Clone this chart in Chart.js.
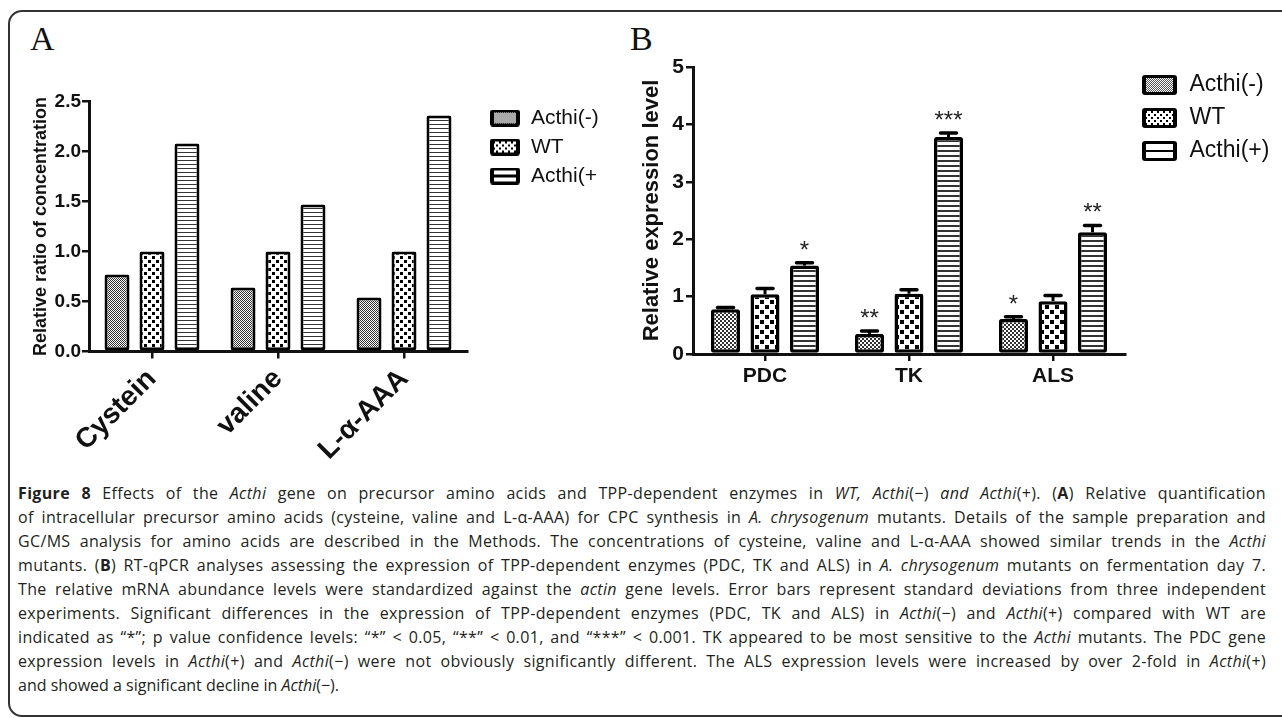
<!DOCTYPE html>
<html>
<head>
<meta charset="utf-8">
<title>Figure 8</title>
<script src="https://cdn.jsdelivr.net/npm/chart.js@4.4.0/dist/chart.umd.min.js"></script>
<style>
  html, body { margin: 0; padding: 0; background: #fff; }
  body { width: 1282px; height: 718px; overflow: hidden; position: relative; }
  #frame { position: absolute; left: 8px; top: 10px; width: 1320px; height: 707px;
           border: 2px solid #333; border-radius: 14px; box-sizing: border-box; }
  canvas { position: absolute; left: 0; top: 0; }
  .tag { position: absolute; font-family: 'Liberation Serif', 'Times New Roman', serif;
         font-size: 34px; line-height: 1; color: #111; }
  #caption { position: absolute; left: 18px; top: 481px; font-family: 'Open Sans', sans-serif;
             font-size: 16px; line-height: 24px; color: #231f20; }
  #caption .ln { display: inline-block; white-space: nowrap; }
</style>
</head>
<body>
<div id="frame"></div>
<div class="tag" style="left:30px; top:22px;">A</div>
<div class="tag" style="left:630px; top:22px;">B</div>
<canvas id="chartA" width="1282" height="460"></canvas>
<canvas id="chartB" width="1282" height="460"></canvas>

<div id="caption">
  <div><span class="ln"><b>Figure 8</b> Effects of the <i>Acthi</i> gene on precursor amino acids and TPP-dependent enzymes in <i>WT, Acthi</i>(−) <i>and Acthi</i>(+). (<b>A</b>) Relative quantification</span></div>
  <div><span class="ln">of intracellular precursor amino acids (cysteine, valine and L-α-AAA) for CPC synthesis in <i>A. chrysogenum</i> mutants. Details of the sample preparation and</span></div>
  <div><span class="ln">GC/MS analysis for amino acids are described in the Methods. The concentrations of cysteine, valine and L-α-AAA showed similar trends in the <i>Acthi</i></span></div>
  <div><span class="ln">mutants. (<b>B</b>) RT-qPCR analyses assessing the expression of TPP-dependent enzymes (PDC, TK and ALS) in <i>A. chrysogenum</i> mutants on fermentation day 7.</span></div>
  <div><span class="ln">The relative mRNA abundance levels were standardized against the <i>actin</i> gene levels. Error bars represent standard deviations from three independent</span></div>
  <div><span class="ln">experiments. Significant differences in the expression of TPP-dependent enzymes (PDC, TK and ALS) in <i>Acthi</i>(−) and <i>Acthi</i>(+) compared with WT are</span></div>
  <div><span class="ln">indicated as “*”; p value confidence levels: “*” &lt; 0.05, “**” &lt; 0.01, and “***” &lt; 0.001. TK appeared to be most sensitive to the <i>Acthi</i> mutants. The PDC gene</span></div>
  <div><span class="ln">expression levels in <i>Acthi</i>(+) and <i>Acthi</i>(−) were not obviously significantly different. The ALS expression levels were increased by over 2-fold in <i>Acthi</i>(+)</span></div>
  <div><span class="ln">and showed a significant decline in <i>Acthi</i>(−).</span></div>
</div>

<script>
// ---- data ----
const seriesNames = ['Acthi(-)', 'WT', 'Acthi(+)'];
const legendNamesA = ['Acthi(-)', 'WT', 'Acthi(+'];   // cut off in the original panel

// panel A: relative ratio of concentration
const aminoAcids = ['Cystein', 'valine', 'L-α-AAA'];
const ratioMinus = [0.77, 0.64, 0.54];
const ratioWT = [1.0, 1.0, 1.0];
const ratioPlus = [2.08, 1.47, 2.36];
const ratioTicks = ['0.0', '0.5', '1.0', '1.5', '2.0', '2.5'];

// panel B: relative expression level
const enzymes = ['PDC', 'TK', 'ALS'];
const exprMinus = [0.78, 0.35, 0.61];
const exprWT = [1.04, 1.05, 0.92];
const exprPlus = [1.54, 3.78, 2.12];
const errMinus = [0.03, 0.05, 0.04];
const errWT = [0.10, 0.07, 0.10];
const errPlus = [0.05, 0.07, 0.12];
const sigMinus = ['', '**', '*'];
const sigWT = ['', '', ''];
const sigPlus = ['*', '***', '**'];
const exprTicks = ['0', '1', '2', '3', '4', '5'];

const FONT = "'Liberation Sans', Arial, sans-serif";
const INK = '#111';

// ---- fill patterns ----
function tile(w, h, draw) {
  const c = document.createElement('canvas');
  c.width = w; c.height = h;
  const g = c.getContext('2d');
  g.fillStyle = '#fff';
  g.fillRect(0, 0, w, h);
  g.fillStyle = '#000';
  draw(g);
  return c;
}
function pattern(ctx, c) { return ctx.createPattern(c, 'repeat'); }

const fineTile = (cell) => tile(cell * 2, cell * 2, g => {
  g.fillStyle = '#333';
  g.fillRect(0, 0, cell, cell); g.fillRect(cell, cell, cell, cell);
});
const checkTile = (cell) => tile(cell * 2, cell * 2, g => {
  g.fillRect(0, 0, cell - 1, cell - 1); g.fillRect(cell, cell, cell - 1, cell - 1);
});
const stripeTile = (period, line) => tile(1, period, g => {
  g.fillStyle = '#333';
  g.fillRect(0, 0, 1, line);
});

function roundRect(g, x, y, w, h, r) {
  g.beginPath();
  g.moveTo(x + r, y);
  g.arcTo(x + w, y, x + w, y + h, r);
  g.arcTo(x + w, y + h, x, y + h, r);
  g.arcTo(x, y + h, x, y, r);
  g.arcTo(x, y, x + w, y, r);
  g.closePath();
}

// legend swatches, drawn like the Prism ones
function icon(w, h, kind) {
  const c = document.createElement('canvas');
  c.width = w; c.height = h;
  const g = c.getContext('2d');
  g.fillStyle = '#000';
  roundRect(g, 0, 0, w, h, 3);
  g.fill();
  const ix = 4, iy = 3, iw = w - 8, ih = h - 6;
  if (kind === 0) {
    g.fillStyle = g.createPattern(tile(2, 2, t => { t.fillStyle = '#555'; t.fillRect(0, 0, 1, 1); t.fillRect(1, 1, 1, 1); }), 'repeat');
    g.fillRect(ix, iy, iw, ih);
  } else if (kind === 1) {
    g.fillStyle = g.createPattern(checkTile(3), 'repeat');
    g.fillRect(ix, iy, iw, ih);
  } else {
    const s = Math.floor((ih - 2) / 2);
    g.fillStyle = '#fff';
    g.fillRect(ix, iy, iw, s);
    g.fillRect(ix, iy + ih - s, iw, s);
  }
  return c;
}

// ---- plugins ----
const placeLegend = {
  id: 'placeLegend',
  afterLayout(chart, args, opts) {
    const lg = chart.legend;
    if (!lg) return;
    lg.left = opts.x; lg.top = opts.y;
    lg.right = opts.x + lg.width; lg.bottom = opts.y + 300;
  }
};

const errorBars = {
  id: 'errorBars',
  afterDatasetsDraw(chart, args, opts) {
    const ctx = chart.ctx;
    const yScale = chart.scales.y;
    chart.data.datasets.forEach((ds, i) => {
      if (!ds.errors) return;
      const meta = chart.getDatasetMeta(i);
      meta.data.forEach((bar, j) => {
        const top = yScale.getPixelForValue(ds.data[j] + ds.errors[j]);
        const cap = bar.width * 0.55;
        ctx.save();
        ctx.strokeStyle = '#000';
        ctx.lineWidth = 3;
        ctx.beginPath();
        ctx.moveTo(bar.x, bar.y);
        ctx.lineTo(bar.x, top);
        ctx.stroke();
        ctx.lineWidth = 3.5;
        ctx.lineCap = 'round';
        ctx.beginPath();
        ctx.moveTo(bar.x - cap / 2, top);
        ctx.lineTo(bar.x + cap / 2, top);
        ctx.stroke();
        if (ds.marks && ds.marks[j]) {
          ctx.fillStyle = '#222';
          ctx.font = '24px ' + FONT;
          ctx.textAlign = 'center';
          ctx.textBaseline = 'alphabetic';
          ctx.fillText(ds.marks[j], bar.x, top - opts.gap);
        }
        ctx.restore();
      });
    });
  }
};

function axisFont(size, bold) {
  return { family: FONT, size: size, weight: bold ? 'bold' : 'normal' };
}

// ---- panel A ----
const ctxA = document.getElementById('chartA').getContext('2d');
const patA = [pattern(ctxA, fineTile(1)), pattern(ctxA, checkTile(4)), pattern(ctxA, stripeTile(4, 1))];
const iconsA = [icon(30, 17, 0), icon(30, 17, 1), icon(30, 17, 2)];
const valuesA = [ratioMinus, ratioWT, ratioPlus];

new Chart(ctxA, {
  type: 'bar',
  data: {
    labels: aminoAcids,
    datasets: seriesNames.map((name, i) => ({
      label: name,
      data: valuesA[i],
      backgroundColor: patA[i],
      borderColor: '#000',
      borderWidth: 3,
      borderRadius: 2,
      borderSkipped: false,
      categoryPercentage: 0.833,
      barPercentage: 0.714
    }))
  },
  options: {
    responsive: false,
    animation: false,
    events: [],
    layout: { padding: { left: 23, right: 815, top: 101.5, bottom: 0 } },
    scales: {
      x: {
        ticks: { font: axisFont(28, true), color: INK, minRotation: 45, maxRotation: 45, autoSkip: false, padding: 4 },
        grid: { offset: false, drawOnChartArea: false, drawTicks: true, tickLength: 7, color: INK, lineWidth: 2.5 },
        border: { color: INK, width: 3 },
        afterFit(scale) { scale.height = 108.5; }
      },
      y: {
        min: 0, max: 2.5,
        ticks: { stepSize: 0.5, callback: (v, i) => ratioTicks[i], font: axisFont(19, true), color: INK, padding: 1 },
        grid: { drawOnChartArea: false, drawTicks: true, tickLength: 7, color: INK, lineWidth: 2.5 },
        border: { color: INK, width: 3 },
        title: { display: true, text: 'Relative ratio of concentration', font: axisFont(18, true), color: INK, padding: { top: 7, bottom: 0 } },
        afterFit(scale) { scale.width = 66; }
      }
    },
    plugins: {
      tooltip: { enabled: false },
      legend: {
        position: 'chartArea',
        align: 'start',
        labels: {
          usePointStyle: true,
          pointStyleWidth: 31,
          font: axisFont(21, false),
          color: INK,
          padding: 8,
          generateLabels: (chart) => chart.data.datasets.map((ds, i) => ({
            text: legendNamesA[i], pointStyle: iconsA[i], datasetIndex: i,
            hidden: false, lineWidth: 0, fontColor: INK
          }))
        }
      },
      placeLegend: { x: 481.5, y: 99.5 }
    }
  },
  plugins: [placeLegend]
});

// ---- panel B ----
const ctxB = document.getElementById('chartB').getContext('2d');
const patB = [pattern(ctxB, fineTile(2)), pattern(ctxB, checkTile(5)), pattern(ctxB, stripeTile(5, 2))];
const iconsB = [icon(35, 20, 0), icon(35, 20, 1), icon(35, 20, 2)];
const valuesB = [exprMinus, exprWT, exprPlus];
const errorsB = [errMinus, errWT, errPlus];
const marksB = [sigMinus, sigWT, sigPlus];

new Chart(ctxB, {
  type: 'bar',
  data: {
    labels: enzymes,
    datasets: seriesNames.map((name, i) => ({
      label: name,
      data: valuesB[i],
      errors: errorsB[i],
      marks: marksB[i],
      backgroundColor: patB[i],
      borderColor: '#000',
      borderWidth: 3.5,
      borderRadius: 2,
      borderSkipped: false,
      categoryPercentage: 0.823,
      barPercentage: 0.734
    }))
  },
  options: {
    responsive: false,
    animation: false,
    events: [],
    layout: { padding: { left: 632, right: 157, top: 67, bottom: 0 } },
    scales: {
      x: {
        ticks: { font: axisFont(21, true), color: INK, maxRotation: 0, autoSkip: false, padding: 3 },
        grid: { offset: false, drawOnChartArea: false, drawTicks: true, tickLength: 7, color: INK, lineWidth: 2.5 },
        border: { color: INK, width: 3 },
        afterFit(scale) { scale.height = 106; }
      },
      y: {
        min: 0, max: 5,
        ticks: { stepSize: 1, callback: (v, i) => exprTicks[i], font: axisFont(21, true), color: INK, padding: 2 },
        grid: { drawOnChartArea: false, drawTicks: true, tickLength: 7, color: INK, lineWidth: 2.5 },
        border: { color: INK, width: 3 },
        title: { display: true, text: 'Relative expression level', font: axisFont(22, true), color: INK, padding: { top: 7, bottom: 0 } },
        afterFit(scale) { scale.width = 61; }
      }
    },
    plugins: {
      tooltip: { enabled: false },
      legend: {
        position: 'chartArea',
        align: 'start',
        labels: {
          usePointStyle: true,
          pointStyleWidth: 37,
          font: axisFont(23, false),
          color: INK,
          padding: 10,
          generateLabels: (chart) => chart.data.datasets.map((ds, i) => ({
            text: ds.label, pointStyle: iconsB[i], datasetIndex: i,
            hidden: false, lineWidth: 0, fontColor: INK
          }))
        }
      },
      placeLegend: { x: 1131, y: 63.5 },
      errorBars: { gap: 5 }
    }
  },
  plugins: [placeLegend, errorBars]
});

// ---- caption: justify every line but the last, sharing the slack
// between letter spacing and word spacing so wide lines do not gape ----
const captionWidth = 1248;
function justifyCaption() {
  const lines = document.querySelectorAll('#caption .ln');
  lines.forEach((ln, k) => {
    ln.style.wordSpacing = '0px';
    ln.style.letterSpacing = '0px';
    if (k === lines.length - 1) return;
    const text = ln.textContent;
    const spaces = (text.match(/ /g) || []).length;
    const chars = text.length;
    const slack = captionWidth - ln.getBoundingClientRect().width;
    let ls = 0;
    if (slack > 0) ls = Math.min(0.35, (slack * 0.45) / chars);
    ln.style.letterSpacing = ls + 'px';
    const w = ln.getBoundingClientRect().width;
    ln.style.wordSpacing = ((captionWidth - w) / spaces) + 'px';
  });
}
justifyCaption();
if (document.fonts) document.fonts.ready.then(justifyCaption);
</script>
</body>
</html>
